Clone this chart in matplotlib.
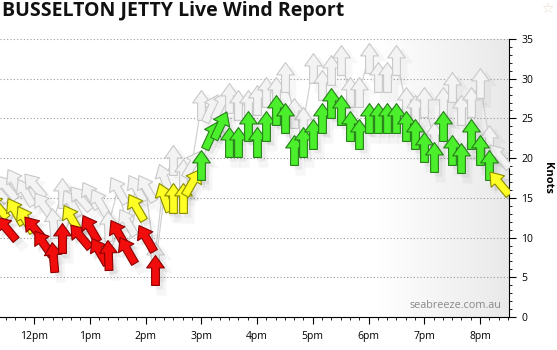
import matplotlib
matplotlib.use("Agg")
import matplotlib.pyplot as plt
import numpy as np
from matplotlib.path import Path
from matplotlib.markers import MarkerStyle
from matplotlib.transforms import Affine2D, ScaledTranslation
from matplotlib.colors import LinearSegmentedColormap

plt.rcParams['font.family'] = ['Open Sans', 'DejaVu Sans']

# ---------------- data ----------------
times = ["11:20", "11:30", "11:40", "11:50", "12:00", "12:10", "12:20", "12:30",
         "12:40", "12:50", "13:00", "13:10", "13:20", "13:30", "13:40", "13:50",
         "14:00", "14:10", "14:20", "14:30", "14:40", "14:50", "15:00", "15:10",
         "15:20", "15:30", "15:40", "15:50", "16:00", "16:10", "16:20", "16:30",
         "16:40", "16:50", "17:00", "17:10", "17:20", "17:30", "17:40", "17:50",
         "18:00", "18:10", "18:20", "18:30", "18:40", "18:50", "19:00", "19:10",
         "19:20", "19:30", "19:40", "19:50", "20:00", "20:10", "20:20"]
wind = [14.0, 11.2, 13.3, 12.3, 11.2, 9.3, 7.5, 10.0,
        12.5, 10.2, 11.2, 8.3, 7.8, 10.6, 8.4, 13.9,
        10.0, 5.9, 15.1, 15.0, 15.0, 17.0, 19.1, 22.9,
        24.2, 22.0, 22.0, 24.0, 22.0, 24.0, 26.0, 25.0,
        21.0, 22.0, 23.0, 25.0, 27.0, 26.0, 24.0, 23.0,
        25.0, 25.0, 25.0, 25.0, 24.0, 23.0, 21.4, 20.2,
        24.0, 21.0, 20.0, 23.0, 21.0, 19.1, 16.9]
gust = [16.0, 16.4, 17.0, 15.7, 16.6, 14.1, 11.8, 15.6,
        14.3, 15.0, 15.4, 14.5, 11.5, 16.0, 12.0, 16.2,
        16.2, 7.5, 17.5, 19.8, 18.0, 19.2, 26.7, 26.3,
        26.7, 27.6, 26.7, 26.7, 27.3, 28.3, 28.3, 30.2,
        25.7, 24.6, 31.4, 29.2, 31.1, 32.4, 28.3, 28.3,
        32.6, 30.2, 30.2, 32.4, 27.1, 26.1, 27.1, 22.7,
        27.1, 29.0, 26.0, 27.1, 29.5, 22.3, 20.3]
# direction the wind blows FROM (compass degrees)
direction = [140, 140, 150, 150, 140, 145, 175, 180,
             150, 140, 150, 150, 178, 150, 150, 150,
             150, 180, 160, 180, 180, 210, 180, 205,
             205, 180, 180, 180, 180, 180, 180, 180,
             180, 180, 180, 180, 180, 180, 180, 180,
             180, 180, 180, 180, 180, 180, 180, 180,
             180, 180, 180, 180, 180, 180, 140]

hour_ticks = [12, 13, 14, 15, 16, 17, 18, 19, 20]
hour_labels = ["12pm", "1pm", "2pm", "3pm", "4pm", "5pm", "6pm", "7pm", "8pm"]
y_ticks = [0, 5, 10, 15, 20, 25, 30, 35]

# ---------------- figure ----------------
W, H = 557, 350
fig = plt.figure(figsize=(W / 100, H / 100), dpi=100)
ax = fig.add_axes([0, 33 / H, 509 / W, (317 - 39) / H])

x = np.array([int(t.split(":")[0]) + int(t.split(":")[1]) / 60 for t in times])

# background gradient on the right side
cmap = LinearSegmentedColormap.from_list("bg", ["#ffffff", "#e9e9e9"])
grad = np.linspace(0, 1, 256).reshape(1, -1)
ax.imshow(grad, extent=[0.74, 1.0, 0.0, 1.0], transform=ax.transAxes,
          cmap=cmap, aspect='auto', zorder=0, interpolation='bicubic')

# arrow path (pointing up, centred)
verts = [(0, 11.5), (6.8, 2.0), (3.0, 2.0), (3.0, -11.5), (-3.0, -11.5),
         (-3.0, 2.0), (-6.8, 2.0), (0, 11.5)]
codes = [Path.MOVETO] + [Path.LINETO] * 6 + [Path.CLOSEPOLY]
arrow = Path(verts, codes)
MS = 21.5


def marker_for(d):
    pointing = (d + 180) % 360
    return MarkerStyle(arrow, transform=Affine2D().rotate_deg(-pointing))


def colors_for(v):
    if v < 12:
        return "#f20d0d", "#8c0000"
    if v < 18.5:
        return "#ffff26", "#8c8c00"
    return "#4cef2c", "#27801a"


shadow_tr = ax.transData + ScaledTranslation(4 / 100, -4 / 100, fig.dpi_scale_trans)
shadow_tr2 = ax.transData + ScaledTranslation(6 / 100, -6 / 100, fig.dpi_scale_trans)

# connecting lines
ax.plot(x, gust, color="#d2d2d2", lw=0.9, zorder=2)
ax.plot(x, wind, color="#d2d2d2", lw=0.9, zorder=2)

# gust arrows
for xi, g, d in zip(x, gust, direction):
    m = marker_for(d)
    ax.plot([xi], [g], marker=m, ms=MS + 5, color="#000000", alpha=0.03,
            ls="none", transform=shadow_tr2, zorder=2.5, mew=0)
    ax.plot([xi], [g], marker=m, ms=MS, mfc="#f3f3f3", mec="#c9c9c9",
            mew=0.8, ls="none", zorder=3)

# wind arrows
for xi, w, d in zip(x, wind, direction):
    m = marker_for(d)
    ax.plot([xi], [w], marker=m, ms=MS + 6, color="#000000", alpha=0.035,
            ls="none", transform=shadow_tr2, zorder=3.5, mew=0)
    ax.plot([xi], [w], marker=m, ms=MS, color="#000000", alpha=0.05,
            ls="none", transform=shadow_tr, zorder=3.6, mew=0)
    fc, ec = colors_for(w)
    ax.plot([xi], [w], marker=m, ms=MS, mfc=fc, mec=ec, mew=0.8,
            ls="none", zorder=4)

# axes styling
ax.set_xlim(12 - 34 / 55.75, 12 + 475 / 55.75)
ax.set_ylim(0, 35)
for gy in y_ticks[1:]:
    ax.axhline(gy, color="#9a9a9a", lw=0.8, ls=(0, (1, 2)), zorder=1)

ax.spines['top'].set_visible(False)
ax.spines['left'].set_visible(False)
ax.spines['right'].set_color("#000000")
ax.spines['bottom'].set_color("#000000")
ax.spines['right'].set_linewidth(0.8)
ax.spines['bottom'].set_linewidth(0.8)

ax.yaxis.tick_right()
ax.yaxis.set_label_position("right")
ax.set_yticks(y_ticks)
ax.set_yticks(np.arange(0, 36, 1), minor=True)
ax.set_xticks(hour_ticks)
ax.set_xticklabels(hour_labels)
ax.set_xticks(np.arange(11.5, 20.6, 1 / 6), minor=True)
ax.tick_params(axis='both', which='major', length=5, width=0.8,
               labelsize=7.5, colors="#000000", direction='out')
ax.tick_params(axis='both', which='minor', length=2.5, width=0.6,
               direction='out')
ax.tick_params(axis='x', pad=5)
ax.tick_params(axis='y', pad=4)
ax.tick_params(axis='y', which='both', left=False, right=True,
               labelleft=False, labelright=True)
ax.set_ylabel("Knots", rotation=270, fontsize=8, fontweight='bold',
              labelpad=14, color="#000000")

ax.text(0.985, 0.04, "seabreeze.com.au", transform=ax.transAxes,
        ha='right', va='center', fontsize=7.8, color="#888888", zorder=6)

fig.text(2 / W, 1 - 1 / H, "BUSSELTON JETTY Live Wind Report", ha='left',
         va='top', fontsize=14, fontweight='bold', color="#111111")
fig.text(547 / W, 1 - 9 / H, "\u2606", ha='center', va='center',
         fontsize=10, color="#e6dcc8", family=['DejaVu Sans'])

fig.savefig("out.png", dpi=100)
